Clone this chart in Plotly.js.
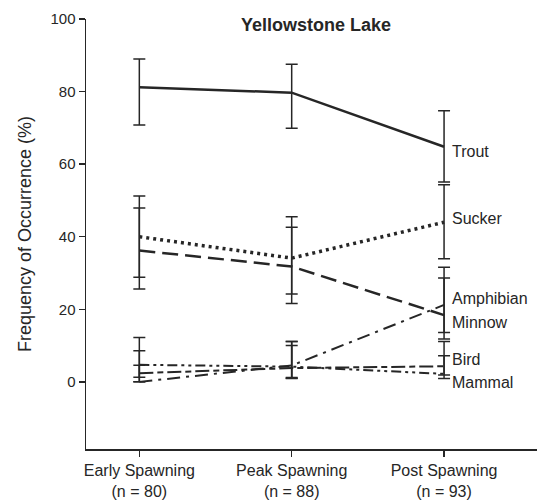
<!DOCTYPE html>
<html>
<head>
<meta charset="utf-8">
<script src="https://cdn.plot.ly/plotly-3.0.1.min.js"></script>
<style>html,body{margin:0;padding:0;background:#fff;}#chart{width:537px;height:502px;}</style>
</head>
<body>
<div id="chart"></div>
<script>
// ---- data ----
var categories = ["Early Spawning<br>(n = 80)", "Peak Spawning<br>(n = 88)", "Post Spawning<br>(n = 93)"];
var names = ["Trout", "Sucker", "Minnow", "Amphibian", "Bird", "Mammal"];

var trout      = [81.2, 79.7, 64.8];
var troutHi    = [89.0, 87.5, 74.7];
var troutLo    = [70.8, 69.9, 55.1];

var sucker     = [40.0, 34.1, 44.0];
var suckerHi   = [51.2, 45.5, 54.3];
var suckerLo   = [28.8, 24.2, 33.9];

var minnow     = [36.2, 31.8, 18.4];
var minnowHi   = [47.9, 42.6, 28.6];
var minnowLo   = [25.6, 21.6, 11.8];

var amphibian   = [0.0, 4.5, 21.2];
var amphibianHi = [4.6, 11.1, 31.6];
var amphibianLo = [0.0, 1.2, 13.6];

var bird       = [2.4, 3.8, 4.3];
var birdHi     = [8.6, 10.0, 11.1];
var birdLo     = [0.0, 0.9, 1.9];

var mammal     = [4.7, 4.2, 2.2];
var mammalHi   = [12.2, 11.1, 7.2];
var mammalLo   = [1.3, 1.0, 0.9];

// ---- styling ----
var ink = "#262626";
var FONT = "Liberation Sans, Arial, sans-serif";
var xIdx = categories.map(function (c, i) { return i; });

function series(name, v, hi, lo, dash, width) {
  return {
    type: "scatter", mode: "lines", name: name,
    x: xIdx, y: v,
    line: { color: ink, width: width, dash: dash },
    error_y: {
      type: "data", symmetric: false,
      array: v.map(function (d, i) { return hi[i] - d; }),
      arrayminus: v.map(function (d, i) { return d - lo[i]; }),
      color: ink, thickness: 1.5, width: 6
    },
    hoverinfo: "skip"
  };
}

var data = [
  series(names[0], trout, troutHi, troutLo, "solid", 2.5),
  series(names[1], sucker, suckerHi, suckerLo, "3px,4px", 3.5),
  series(names[2], minnow, minnowHi, minnowLo, "16px,7px", 2.5),
  series(names[3], amphibian, amphibianHi, amphibianLo, "13px,6px,3px,6px", 2),
  series(names[4], bird, birdHi, birdLo, "14px,4px,6px,4px", 2),
  series(names[5], mammal, mammalHi, mammalLo, "10px,4px,3px,4px,3px,4px", 2)
];

// label positions (Trout, Sucker, Minnow, Amphibian, Bird, Mammal)
var labelY = [63.6, 44.9, 16.5, 23.1, 6.1, -0.3];
var annotations = names.map(function (n, i) {
  return {
    x: xIdx[xIdx.length - 1], y: labelY[i], xref: "x", yref: "y",
    text: n, showarrow: false, xanchor: "left", yanchor: "middle",
    xshift: 6, font: { family: FONT, size: 16, color: ink }
  };
});

var layout = {
  width: 537, height: 502,
  margin: { l: 86, r: 0, t: 19, b: 53 },
  paper_bgcolor: "#fff", plot_bgcolor: "#fff",
  showlegend: false,
  font: { family: FONT, color: ink },
  title: {
    text: "<b>Yellowstone Lake</b>",
    font: { family: FONT, size: 18, color: ink },
    xref: "paper", x: 0.51, xanchor: "center",
    yref: "container", y: 0.95, yanchor: "middle"
  },
  xaxis: {
    range: [-0.35, 2.61],
    tickvals: xIdx, ticktext: categories,
    ticks: "outside", ticklen: 6, tickwidth: 1.5, tickcolor: ink,
    showline: true, linecolor: ink, linewidth: 1.5,
    showgrid: false, zeroline: false,
    tickfont: { family: FONT, size: 16, color: ink }
  },
  yaxis: {
    range: [-18.5, 100],
    tickvals: [0, 20, 40, 60, 80, 100],
    ticks: "outside", ticklen: 6, tickwidth: 1.5, tickcolor: ink,
    showline: true, linecolor: ink, linewidth: 1.5,
    showgrid: false, zeroline: false,
    tickfont: { family: FONT, size: 15, color: ink },
    title: { text: "Frequency of Occurrence (%)", font: { family: FONT, size: 18, color: ink }, standoff: 14 }
  },
  annotations: annotations
};

Plotly.newPlot("chart", data, layout, { displayModeBar: false, staticPlot: true });
</script>
</body>
</html>
